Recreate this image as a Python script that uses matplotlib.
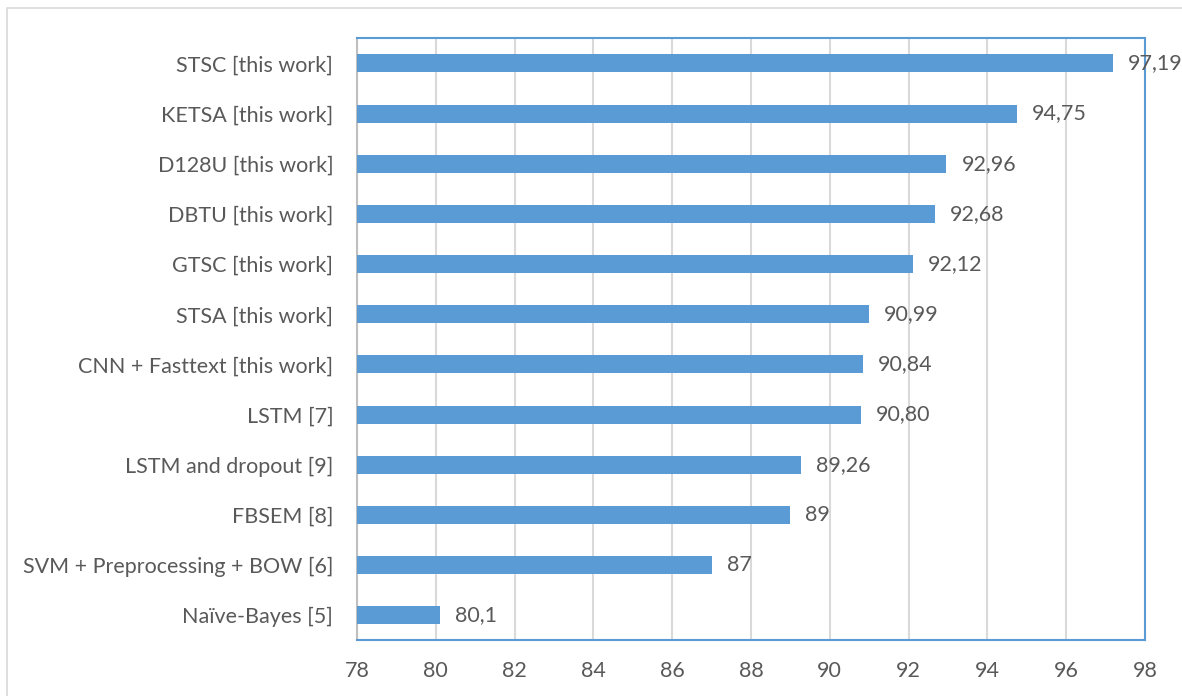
import matplotlib.pyplot as plt
from matplotlib.patches import Rectangle

plt.rcParams['font.family'] = ['Lato', 'DejaVu Sans']

# Data (top to bottom)
methods = [
    "STSC [this work]",
    "KETSA [this work]",
    "D128U [this work]",
    "DBTU [this work]",
    "GTSC [this work]",
    "STSA [this work]",
    "CNN + Fasttext [this work]",
    "LSTM [7]",
    "LSTM and dropout [9]",
    "FBSEM [8]",
    "SVM + Preprocessing + BOW [6]",
    "Naïve-Bayes [5]",
]
accuracy = [97.19, 94.75, 92.96, 92.68, 92.12, 90.99, 90.84, 90.80, 89.26, 89, 87, 80.1]
value_labels = ["97,19", "94,75", "92,96", "92,68", "92,12", "90,99", "90,84", "90,80",
                "89,26", "89", "87", "80,1"]
ticks = list(range(78, 99, 2))

text_col = "#595959"
bar_col = "#5b9bd5"
fs = 15.5

fig = plt.figure(figsize=(11.82, 6.96), dpi=100)
ax = fig.add_axes([0.302, 0.080, 0.6667, 0.865])

# outer frame
fig.patches.append(Rectangle((7 / 1182, -0.01), 1.1, 1 - 8 / 696 + 0.01,
                             transform=fig.transFigure, fill=False,
                             edgecolor="#d9d9d9", linewidth=1.2))

y = list(range(len(methods)))
ax.barh(y, [a - 78 for a in accuracy], left=78, height=0.36, color=bar_col, zorder=3)

for yi, a, lab in zip(y, accuracy, value_labels):
    ax.text(a + 0.38, yi, lab, va="center", ha="left", fontsize=fs, color=text_col)

ax.set_xlim(78, 98)
ax.set_ylim(len(methods) - 0.5, -0.5)
ax.set_xticks(ticks)
ax.set_xticklabels([str(t) for t in ticks], fontsize=fs, color=text_col)
ax.set_yticks(y)
ax.set_yticklabels(methods, fontsize=fs, color=text_col)
ax.tick_params(axis="both", length=0)
ax.tick_params(axis="x", pad=15)
ax.tick_params(axis="y", pad=17)
ax.xaxis.grid(True, color="#d9d9d9", linewidth=1.5, zorder=0)

for side in ["top", "right", "bottom"]:
    ax.spines[side].set_color(bar_col)
    ax.spines[side].set_linewidth(1.5)
ax.spines["left"].set_color("#bfbfbf")
ax.spines["left"].set_linewidth(1.5)

plt.savefig("out.png", dpi=100)
